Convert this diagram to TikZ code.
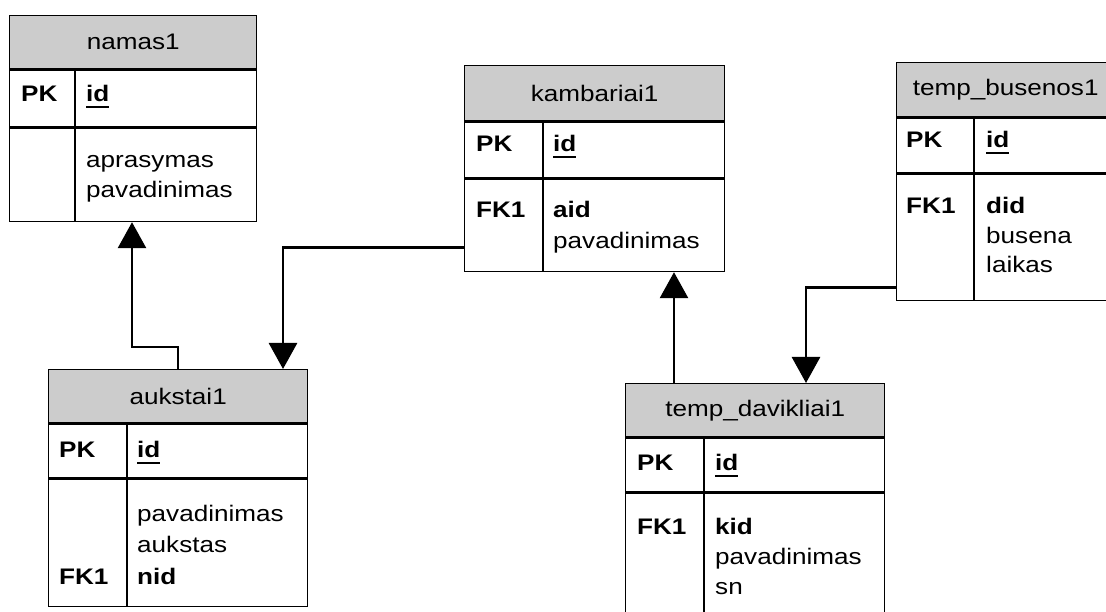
\documentclass[tikz,border=0pt]{standalone}
\usepackage{fontspec}
\setmainfont{Liberation Sans}
\usepackage{graphicx}
\usetikzlibrary{arrows.meta}
\definecolor{hdrgray}{RGB}{204,204,204}
% widened text, as set in the table shapes
\newcommand\wide[1]{\scalebox{1.16}[1]{#1}}
% bold, underlined primary key field
\newcommand\keyfield[1]{\setbox0=\hbox{\bfseries #1}\rlap{\rule[-6.5pt]{\wd0}{2pt}}\box0}
\begin{document}
\begin{tikzpicture}[x=1pt, y=-1pt,
  every node/.style={font=\fontsize{22.5}{27}\selectfont},
  hdr/.style={draw, line width=1.4pt, fill=hdrgray, inner sep=0pt, anchor=north west},
  cell/.style={draw, line width=1.4pt, fill=white, inner sep=0pt, anchor=north west},
  txt/.style={inner sep=0pt, anchor=base west},
  title/.style={inner sep=0pt, anchor=center},
  divline/.style={line width=1.4pt},
  conn/.style={line width=2.8pt, -{Triangle[width=28pt,length=26pt]}}]
\useasboundingbox (0,0) rectangle (1106,612);
\fill[white] (0,0) rectangle (1106,612);
\clip (0,0) rectangle (1106,612);

% ---------- namas1 ----------
\node[hdr, minimum width=247pt, minimum height=53pt] (na) at (9,15) {};
\node[title] (na-t) at (na.center) {\wide{namas1}};
\node[cell, minimum width=247pt, minimum height=57pt] (na-pk) at (na.south west) {};
\node[cell, minimum width=247pt, minimum height=93pt] (na-f) at (na-pk.south west) {};
\draw[divline] ([xshift=66pt]na-pk.north west) -- ([xshift=66pt]na-f.south west);
\node[txt] (na-k1) at (21,102) {\wide{\bfseries PK}};
\node[txt] (na-f1) at (86,102) {\wide{\keyfield{id}}};
\node[txt] (na-f2) at (86,168) {\wide{aprasymas}};
\node[txt] (na-f3) at (86,198) {\wide{pavadinimas}};

% ---------- kambariai1 ----------
\node[hdr, minimum width=260pt, minimum height=55pt] (ka) at (464,65) {};
\node[title] (ka-t) at (ka.center) {\wide{kambariai1}};
\node[cell, minimum width=260pt, minimum height=56pt] (ka-pk) at (ka.south west) {};
\node[cell, minimum width=260pt, minimum height=92pt] (ka-f) at (ka-pk.south west) {};
\draw[divline] ([xshift=79pt]ka-pk.north west) -- ([xshift=79pt]ka-f.south west);
\node[txt] (ka-k1) at (476,152) {\wide{\bfseries PK}};
\node[txt] (ka-f1) at (553,152) {\wide{\keyfield{id}}};
\node[txt] (ka-k2) at (476,218) {\wide{\bfseries FK1}};
\node[txt] (ka-f2) at (553,218) {\wide{\bfseries aid}};
\node[txt] (ka-f3) at (553,249) {\wide{pavadinimas}};

% ---------- temp_busenos1 ----------
\node[hdr, minimum width=218pt, minimum height=54pt] (tb) at (896,62) {};
\node[title] (tb-t) at (tb.center) {\wide{temp\_busenos1}};
\node[cell, minimum width=218pt, minimum height=55pt] (tb-pk) at (tb.south west) {};
\node[cell, minimum width=218pt, minimum height=126pt] (tb-f) at (tb-pk.south west) {};
\draw[divline] ([xshift=78pt]tb-pk.north west) -- ([xshift=78pt]tb-f.south west);
\node[txt] (tb-k1) at (906,148) {\wide{\bfseries PK}};
\node[txt] (tb-f1) at (986,148) {\wide{\keyfield{id}}};
\node[txt] (tb-k2) at (906,214) {\wide{\bfseries FK1}};
\node[txt] (tb-f2) at (986,214) {\wide{\bfseries did}};
\node[txt] (tb-f3) at (986,244) {\wide{busena}};
\node[txt] (tb-f4) at (986,273) {\wide{laikas}};

% ---------- aukstai1 ----------
\node[hdr, minimum width=259pt, minimum height=53pt] (au) at (48,369) {};
\node[title] (au-t) at (au.center) {\wide{aukstai1}};
\node[cell, minimum width=259pt, minimum height=54pt] (au-pk) at (au.south west) {};
\node[cell, minimum width=259pt, minimum height=127pt] (au-f) at (au-pk.south west) {};
\draw[divline] ([xshift=79pt]au-pk.north west) -- ([xshift=79pt]au-f.south west);
\node[txt] (au-k1) at (59,457) {\wide{\bfseries PK}};
\node[txt] (au-f1) at (137,457) {\wide{\keyfield{id}}};
\node[txt] (au-f2) at (137,521) {\wide{pavadinimas}};
\node[txt] (au-f3) at (137,552) {\wide{aukstas}};
\node[txt] (au-k2) at (59,584) {\wide{\bfseries FK1}};
\node[txt] (au-f4) at (137,584) {\wide{\bfseries nid}};

% ---------- temp_davikliai1 ----------
\node[hdr, minimum width=259pt, minimum height=53pt] (td) at (625,383) {};
\node[title] (td-t) at (td.center) {\wide{temp\_davikliai1}};
\node[cell, minimum width=259pt, minimum height=54pt] (td-pk) at (td.south west) {};
\node[cell, minimum width=259pt, minimum height=160pt] (td-f) at (td-pk.south west) {};
\draw[divline] ([xshift=79pt]td-pk.north west) -- ([xshift=79pt]td-f.south west);
\node[txt] (td-k1) at (637,470) {\wide{\bfseries PK}};
\node[txt] (td-f1) at (715,470) {\wide{\keyfield{id}}};
\node[txt] (td-k2) at (637,534) {\wide{\bfseries FK1}};
\node[txt] (td-f2) at (715,534) {\wide{\bfseries kid}};
\node[txt] (td-f3) at (715,564) {\wide{pavadinimas}};
\node[txt] (td-f4) at (715,594) {\wide{sn}};

% ---------- relationships ----------
\draw[conn] ([xshift=130pt]au.north west) -- ++(0,-22) -| ([xshift=123pt]na-f.south west);
\draw[conn] ([yshift=-69pt]ka-f.north west) -| ([xshift=235pt]au.north west);
\draw[conn] ([xshift=49pt]td.north west) -- ([xshift=210pt]ka-f.south west);
\draw[conn] ([yshift=-114pt]tb-f.north west) -| ([xshift=181pt]td.north west);
\end{tikzpicture}
\end{document}
